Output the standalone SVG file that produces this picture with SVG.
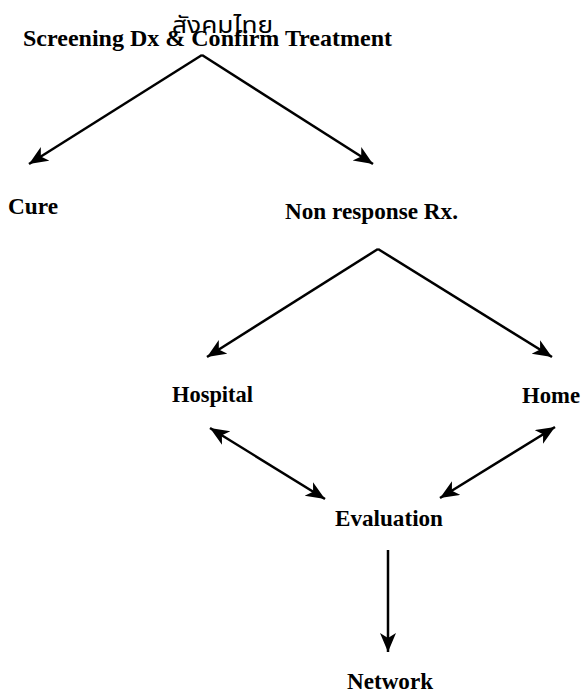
<svg xmlns="http://www.w3.org/2000/svg" width="586" height="693" viewBox="0 0 586 693">
<defs>
<style>
.lbl{font-family:"Liberation Serif","Times New Roman",serif;font-weight:bold;font-size:23px;fill:#000}
.thai{font-family:"Liberation Serif","Noto Sans Thai","Noto Serif Thai",serif;font-size:23px;fill:#000}
.c{stroke:#000;stroke-width:2.5;fill:none;marker-end:url(#ah)}
.d{marker-start:url(#ah)}
</style>
<marker id="ah" markerUnits="userSpaceOnUse" markerWidth="22" markerHeight="18" refX="19" refY="8" orient="auto-start-reverse" viewBox="0 0 22 18">
<path d="M0,0 L19,8 L0,16 L5,8 z" fill="#000"/>
</marker>
</defs>
<rect width="586" height="693" fill="#fff"/>
<g id="connectors">
<line class="c" x1="202" y1="55" x2="29" y2="164"/>
<line class="c" x1="202" y1="55" x2="373" y2="164"/>
<line class="c" x1="378" y1="249" x2="207" y2="357"/>
<line class="c" x1="378" y1="249" x2="552" y2="357"/>
<line class="c d" x1="210" y1="428" x2="325" y2="499"/>
<line class="c d" x1="555" y1="427" x2="440" y2="498"/>
<line class="c" x1="388" y1="550" x2="388" y2="652"/>
</g>
<g id="thai-label"><text class="thai" x="172" y="33" textLength="101" lengthAdjust="spacingAndGlyphs">สังคมไทย</text></g>
<g id="screening"><text class="lbl" x="23" y="46" textLength="369" lengthAdjust="spacingAndGlyphs">Screening Dx &amp; Confirm Treatment</text></g>
<g id="cure"><text class="lbl" x="8" y="214" textLength="50" lengthAdjust="spacingAndGlyphs">Cure</text></g>
<g id="nonresponse"><text class="lbl" x="285" y="219" textLength="173" lengthAdjust="spacingAndGlyphs">Non response Rx.</text></g>
<g id="hospital"><text class="lbl" x="172" y="402" textLength="81" lengthAdjust="spacingAndGlyphs">Hospital</text></g>
<g id="home"><text class="lbl" x="522" y="403" textLength="58" lengthAdjust="spacingAndGlyphs">Home</text></g>
<g id="evaluation"><text class="lbl" x="335" y="526" textLength="108" lengthAdjust="spacingAndGlyphs">Evaluation</text></g>
<g id="network"><text class="lbl" x="347" y="689" textLength="86" lengthAdjust="spacingAndGlyphs">Network</text></g>
</svg>
